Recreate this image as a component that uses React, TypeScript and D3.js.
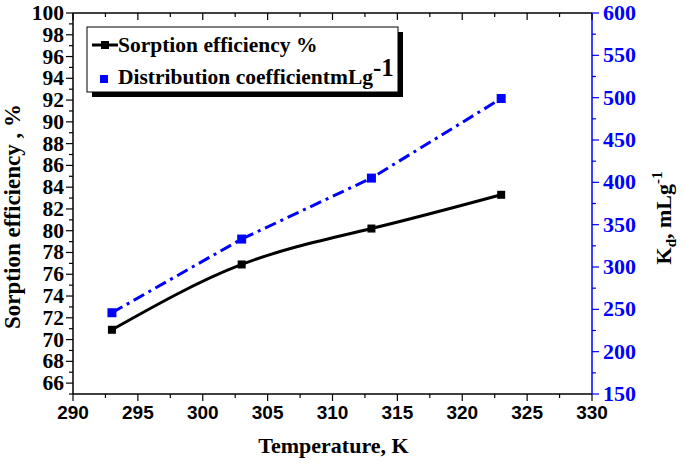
import React from "react";
import * as d3 from "d3";

const temps = [293, 303, 313, 323];
const efficiency = [70.9, 76.9, 80.2, 83.3];
const kd = [246, 333, 405, 499];
const xTicks = [290, 295, 300, 305, 310, 315, 320, 325, 330];
const leftTicks = [66, 68, 70, 72, 74, 76, 78, 80, 82, 84, 86, 88, 90, 92, 94, 96, 98, 100];
const rightTicks = [150, 200, 250, 300, 350, 400, 450, 500, 550, 600];

const W = 685, H = 464;
const L = 73, R = 592, T = 13, B = 394;
const BLUE = "#0000ff";
const SERIF = "'Liberation Serif', 'Times New Roman', serif";
const SANS = "'Liberation Sans', Arial, sans-serif";

export default function App() {
  const x = d3.scaleLinear().domain([290, 330]).range([L, R]);
  const yL = d3.scaleLinear().domain([65, 100]).range([B, T]);
  const yR = d3.scaleLinear().domain([150, 600]).range([B, T]);

  const effPts = temps.map((t, i) => [x(t), yL(efficiency[i])] as [number, number]);
  const kdPts = temps.map((t, i) => [x(t), yR(kd[i])] as [number, number]);
  const effLine = d3.line().curve(d3.curveNatural)(effPts) || "";
  const kdLine = d3.line()(kdPts) || "";

  const xMinor = d3.range(290, 330.01, 2.5);
  const lMinor = d3.range(65, 100.01, 1);
  const rMinor = d3.range(150, 600.01, 25);

  return (
    <svg width={W} height={H} style={{ position: "absolute", left: 0, top: 0, background: "#fff" }}>
      <rect x={0} y={0} width={W} height={H} fill="#fff" />
      {/* frame */}
      <line x1={L} y1={T} x2={R} y2={T} stroke="#000" strokeWidth={1.5} />
      <line x1={L} y1={B} x2={R} y2={B} stroke="#000" strokeWidth={1.5} />
      <line x1={L} y1={T} x2={L} y2={B} stroke="#000" strokeWidth={1.5} />
      <line x1={R} y1={T} x2={R} y2={B} stroke={BLUE} strokeWidth={1.5} />

      {/* bottom & top ticks */}
      {xMinor.map((v) => {
        const major = Math.abs(v % 5) < 1e-6;
        return (
          <g key={"bx" + v}>
            <line x1={x(v)} x2={x(v)} y1={B} y2={B + (major ? 7 : 4)} stroke="#000" strokeWidth={1.2} />
            <line x1={x(v)} x2={x(v)} y1={T} y2={T + (major ? 7 : 4)} stroke="#000" strokeWidth={1.2} />
          </g>
        );
      })}
      {xTicks.map((v) => (
        <text key={"xt" + v} x={x(v)} y={B + 25} textAnchor="middle" fontFamily={SANS} fontWeight="bold" fontSize={19} fill="#000">
          {v}
        </text>
      ))}

      {/* left ticks */}
      {lMinor.map((v) => {
        const major = v % 2 === 0;
        return <line key={"lt" + v} x1={L} x2={L - (major ? 7 : 4)} y1={yL(v)} y2={yL(v)} stroke="#000" strokeWidth={1.2} />;
      })}
      {leftTicks.map((v) => (
        <text key={"ll" + v} x={L - 9} y={yL(v) + 7} textAnchor="end" fontFamily={SERIF} fontWeight="bold" fontSize={21.5} fill="#000">
          {v}
        </text>
      ))}

      {/* right ticks */}
      {rMinor.map((v) => {
        const major = v % 50 === 0;
        return <line key={"rt" + v} x1={R} x2={R + (major ? 7 : 4)} y1={yR(v)} y2={yR(v)} stroke={BLUE} strokeWidth={1.2} />;
      })}
      {rightTicks.map((v) => (
        <text key={"rl" + v} x={R + 11} y={yR(v) + 7} textAnchor="start" fontFamily={SERIF} fontWeight="bold" fontSize={22} fill={BLUE}>
          {v}
        </text>
      ))}

      {/* series */}
      <path d={kdLine} fill="none" stroke={BLUE} strokeWidth={3} strokeDasharray="12,5,3,5" />
      <path d={effLine} fill="none" stroke="#000" strokeWidth={3} />
      {effPts.map(([px, py], i) => (
        <rect key={"em" + i} x={px - 4} y={py - 4} width={8} height={8} fill="#000" />
      ))}
      {kdPts.map(([px, py], i) => (
        <rect key={"km" + i} x={px - 4.5} y={py - 4.5} width={9} height={9} fill={BLUE} />
      ))}

      {/* axis titles */}
      <text x={W / 2 - 9} y={453} textAnchor="middle" fontFamily={SERIF} fontWeight="bold" fontSize={22} fill="#000">
        Temperature, K
      </text>
      <text transform={`translate(20,${(T + B) / 2 + 13}) rotate(-90)`} textAnchor="middle" fontFamily={SERIF} fontWeight="bold" fontSize={23} fill="#000">
        Sorption efficiency , %
      </text>
      <text transform={`translate(671,218) rotate(-90)`} textAnchor="middle" fontFamily={SERIF} fontWeight="bold" fontSize={22} fill="#000">
        K<tspan fontSize={15} dy={5}>d</tspan>
        <tspan dy={-5}>, mLg</tspan>
        <tspan fontSize={15} dy={-9}>-1</tspan>
      </text>

      {/* legend */}
      <rect x={92} y={32} width={311} height={65} fill="#000" />
      <rect x={87} y={27} width={311} height={65} fill="#fff" stroke="#000" strokeWidth={1} />
      <line x1={92} x2={118} y1={45} y2={45} stroke="#000" strokeWidth={3} />
      <rect x={101} y={41} width={8} height={8} fill="#000" />
      <text x={118} y={52} fontFamily={SERIF} fontWeight="bold" fontSize={21.5} fill="#000">
        Sorption efficiency %
      </text>
      <rect x={100} y={75} width={8} height={8} fill={BLUE} />
      <text x={118} y={84} fontFamily={SERIF} fontWeight="bold" fontSize={21.5} fill="#000">
        Distribution coefficientmLg<tspan dy={-8} fontSize={25}>-1</tspan>
      </text>
    </svg>
  );
}
